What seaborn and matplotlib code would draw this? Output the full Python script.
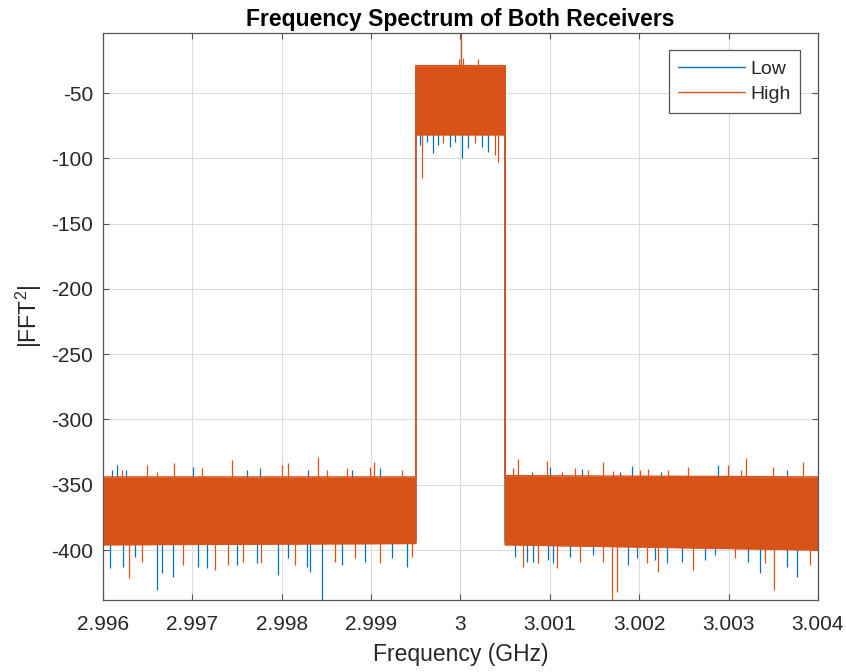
import numpy as np
import pandas as pd
import matplotlib
matplotlib.use('Agg')
import matplotlib.pyplot as plt
import seaborn as sns

LOW_RENK  = '#0072BD'
HIGH_RENK = '#D95319'

# solid body of the spectrum (both receivers overlap here, High on top)
core_f     = [2.996, 2.9995, 2.9995, 3.0005, 3.0005, 3.004]
low_top    = [-346, -346, -31, -31, -345, -346]
low_bot    = [-394, -393, -80, -80, -394, -398]
high_top   = [-344, -344, -29, -29, -343, -344]
high_bot   = [-396, -395, -82, -82, -396, -400]

# Low receiver spikes
low_up_f = [2.996097, 2.996157, 2.996257, 2.997004, 2.997608, 2.997757, 2.998297,
            2.998783, 2.999099, 3.000797, 3.001001, 3.001356, 3.001785, 3.001916,
            3.002243, 3.002878, 3.003650]
low_up_v = [-338.7, -334.9, -338.7, -336.2, -338.7, -337.5, -338.7,
            -338.7, -337.5, -340.0, -336.2, -338.0, -340.0, -335.4,
            -340.0, -334.9, -338.7]
low_dn_f = [2.996078, 2.996224, 2.996358, 2.996601, 2.996657, 2.996787, 2.997066,
            2.997160, 2.997496, 2.997720, 2.997961, 2.998073, 2.998279, 2.998316,
            2.998447, 2.998671, 2.998931, 2.999230, 2.999398,
            2.999547, 2.999622, 2.999696, 2.999752, 2.999883, 2.999938, 3.000013,
            3.000087, 3.000237, 3.000311,
            3.000610, 3.000741, 3.000815, 3.000982, 3.001038, 3.001225, 3.001486,
            3.001878, 3.001971, 3.002176, 3.002307, 3.002475, 3.002736, 3.002848,
            3.003220, 3.003351, 3.003650, 3.003762]
low_dn_v = [-414.0, -412.8, -405.1, -430.6, -417.9, -420.4, -412.8,
            -414.0, -411.5, -410.2, -419.2, -406.4, -412.8, -416.6,
            -438.3, -411.5, -409.0, -406.4, -412.8,
            -89.8, -87.3, -96.2, -89.8, -91.1, -87.3, -100.0,
            -92.3, -91.1, -94.9,
            -405.1, -409.0, -409.0, -407.7, -410.2, -405.1, -404.0,
            -411.5, -406.4, -407.7, -410.2, -409.0, -407.7, -404.0,
            -409.0, -417.9, -412.8, -420.4]

# High receiver spikes
high_up_f = [2.996209, 2.996489, 2.996601, 2.996794, 2.997104, 2.997440, 2.998000,
             2.998073, 2.998402, 2.998503, 2.998727, 2.998987, 2.999036, 2.999342,
             2.999980, 3.000002, 3.000030, 3.000192,
             3.000591, 3.000647, 3.000964, 3.001132, 3.001281, 3.001430, 3.001598,
             3.001710, 3.002009, 3.002101, 3.002325, 3.002549, 3.002996, 3.003138,
             3.003191, 3.003500, 3.003836]
high_up_v = [-338.7, -334.9, -340.5, -333.6, -337.5, -331.1, -334.9,
             -333.6, -328.5, -338.7, -337.5, -336.2, -332.9, -338.7,
             -24.0, -4.0, -23.0, -24.0,
             -337.5, -330.3, -331.8, -340.0, -337.0, -338.7, -332.4,
             -339.5, -338.7, -338.0, -338.7, -336.2, -334.9, -338.7,
             -329.8, -336.2, -332.9]
high_dn_f = [2.996294, 2.996433, 2.996899, 2.997253, 2.997402, 2.997570, 2.997768,
             2.998148, 2.998596, 2.998820, 2.999099, 2.999454,
             2.999573, 2.999808, 3.000162, 3.000386, 3.000423,
             3.000703, 3.000871, 3.001076, 3.001337, 3.001598, 3.001692, 3.001748,
             3.002083, 3.002213, 3.002605, 3.003071, 3.003407, 3.003508, 3.003910]
high_dn_v = [-421.7, -409.0, -411.5, -415.3, -411.5, -409.0, -410.2,
             -411.5, -409.0, -406.4, -410.2, -405.1,
             -115.3, -88.5, -88.5, -97.5, -102.6,
             -412.8, -410.2, -414.0, -409.0, -409.0, -438.3, -432.0,
             -410.2, -416.6, -415.3, -406.4, -410.2, -431.0, -411.5]

x_ticks  = [2.996, 2.997, 2.998, 2.999, 3.0, 3.001, 3.002, 3.003, 3.004]
x_labels = ['2.996', '2.997', '2.998', '2.999', '3', '3.001', '3.002', '3.003', '3.004']
y_ticks  = [-400, -350, -300, -250, -200, -150, -100, -50]

sns.set_theme(style="whitegrid")
plt.rcParams['font.family'] = ['Liberation Sans', 'DejaVu Sans']
plt.rcParams['mathtext.fontset'] = 'custom'
plt.rcParams['mathtext.rm'] = 'Liberation Sans'
plt.rcParams['axes.unicode_minus'] = False

fig = plt.figure(figsize=(8.46, 6.72), dpi=100, facecolor='white')
ax = fig.add_axes([0.1217, 0.1071, 0.8452, 0.8438])
ax.set_facecolor('white')


def ciz(top, bot, up_f, up_v, dn_f, dn_v, renk, etiket, z):
    df_top = pd.DataFrame({'f': core_f, 'v': top})
    df_bot = pd.DataFrame({'f': core_f, 'v': bot})
    taban_up = np.interp(up_f, core_f, top) - 3
    taban_dn = np.interp(dn_f, core_f, bot) + 3
    ax.vlines(up_f, taban_up, up_v, color=renk, lw=0.9, zorder=z)
    ax.vlines(dn_f, taban_dn, dn_v, color=renk, lw=0.9, zorder=z)
    sns.lineplot(data=df_top, x='f', y='v', sort=False, estimator=None,
                 color=renk, lw=1, label=etiket, ax=ax, zorder=z + 0.1)
    sns.lineplot(data=df_bot, x='f', y='v', sort=False, estimator=None,
                 color=renk, lw=1, legend=False, ax=ax, zorder=z + 0.1)
    ax.fill_between(core_f, top, bot, color=renk, lw=0, zorder=z + 0.2)


ciz(low_top, low_bot, low_up_f, low_up_v, low_dn_f, low_dn_v, LOW_RENK, 'Low', 2)
ciz(high_top, high_bot, high_up_f, high_up_v, high_dn_f, high_dn_v, HIGH_RENK, 'High', 3)

tum = low_up_v + low_dn_v + high_up_v + high_dn_v
ax.set_xlim(2.996, 3.004)
ax.set_ylim(min(tum), max(tum))
ax.set_xticks(x_ticks)
ax.set_xticklabels(x_labels)
ax.set_yticks(y_ticks)

ax.grid(True, color='#dcdcdc', lw=0.8)
ax.set_axisbelow(True)
for s in ax.spines.values():
    s.set_visible(True)
    s.set_color('#555555')
    s.set_linewidth(0.9)
    s.set_zorder(5)
ax.tick_params(direction='in', length=4, width=0.8, color='#555555',
               top=True, right=True, bottom=True, left=True,
               labelsize=15, labelcolor='#262626')
ax.tick_params(axis='x', pad=11)
ax.tick_params(axis='y', pad=7)

ax.set_xlabel('Frequency (GHz)', fontsize=16.5, color='#262626', labelpad=6)
ax.set_ylabel('|FFT$^2$|', fontsize=16.5, color='#262626', labelpad=5)
ax.set_title('Frequency Spectrum of Both Receivers', fontsize=16.5,
             fontweight='bold', color='#000000', pad=5)

leg = ax.legend(loc='upper right', fontsize=14, fancybox=False, framealpha=1,
                edgecolor='#555555', handlelength=3.4, handletextpad=0.3,
                borderaxespad=0.9, borderpad=0.5, labelspacing=0.4)
leg.get_frame().set_linewidth(0.9)
leg.set_zorder(10)
for t in leg.get_texts():
    t.set_color('#262626')

plt.savefig('out.png', dpi=100, facecolor='white')
plt.close()
